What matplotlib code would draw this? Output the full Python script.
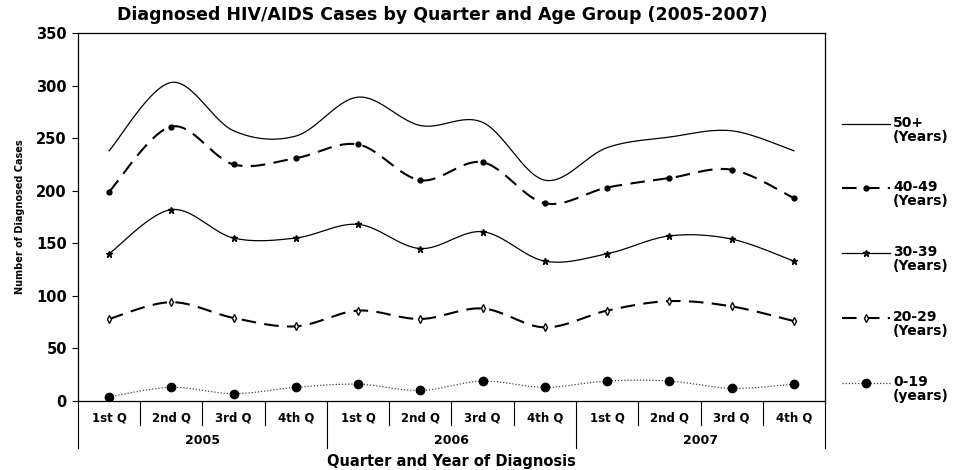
import numpy as np
import matplotlib
matplotlib.use("Agg")
import matplotlib.pyplot as plt
from matplotlib.lines import Line2D

plt.rcParams['font.family'] = ['DejaVu Sans', 'Liberation Sans']

## Chart data
#
quarters = ["1st Q", "2nd Q", "3rd Q", "4th Q"] * 3
years = ["2005", "2006", "2007"]
age_50 = [238, 303, 257, 252, 289, 262, 265, 210, 241, 251, 257, 238]
age_40 = [199, 261, 225, 231, 244, 210, 227, 188, 203, 212, 220, 193]
age_30 = [140, 182, 155, 155, 168, 145, 161, 133, 140, 157, 154, 133]
age_20 = [78, 94, 79, 71, 86, 78, 88, 70, 86, 95, 90, 76]
age_0 = [4, 13, 7, 13, 16, 10, 19, 13, 19, 19, 12, 16]
labels = ["50+\n(Years)", "40-49\n(Years)", "30-39\n(Years)", "20-29\n(Years)", "0-19\n(years)"]


def smooth(y, n=30):
    # Excel style smoothed line (Catmull-Rom through the points)
    x = np.arange(len(y), dtype=float)
    y = np.asarray(y, dtype=float)
    px = np.concatenate([[x[0]], x, [x[-1]]])
    py = np.concatenate([[y[0]], y, [y[-1]]])
    xs, ys = [], []
    t = np.linspace(0, 1, n)
    for i in range(1, len(px) - 2):
        p0 = np.array([px[i], py[i]])
        p3 = np.array([px[i + 1], py[i + 1]])
        p1 = p0 + (np.array([px[i + 1], py[i + 1]]) - np.array([px[i - 1], py[i - 1]])) / 6
        p2 = p3 - (np.array([px[i + 2], py[i + 2]]) - np.array([px[i], py[i]])) / 6
        b = ((1 - t) ** 3)[:, None] * p0 + (3 * (1 - t) ** 2 * t)[:, None] * p1 \
            + (3 * (1 - t) * t ** 2)[:, None] * p2 + (t ** 3)[:, None] * p3
        xs.extend(b[:, 0])
        ys.extend(b[:, 1])
    return np.array(xs), np.array(ys)


fig = plt.figure(figsize=(9.59, 4.70), dpi=100)
ax = fig.add_axes([0.0813, 0.1468, 0.779, 0.783])

series = [age_50, age_40, age_30, age_20, age_0]
styles = [
    dict(ls="-", lw=0.9, color="black", marker=None, ms=0, mfc="black"),
    dict(ls=(0, (7, 4)), lw=1.5, color="black", marker="o", ms=3.5, mfc="black"),
    dict(ls="-", lw=0.9, color="black", marker="*", ms=5, mfc="black"),
    dict(ls=(0, (7, 4)), lw=1.5, color="black", marker="d", ms=4, mfc="white"),
    dict(ls=(0, (1, 1.5)), lw=0.9, color="#444444", marker="o", ms=6, mfc="black"),
]
x = np.arange(len(quarters))
for vals, st in zip(series, styles):
    sx, sy = smooth(vals)
    ax.plot(sx, sy, ls=st["ls"], lw=st["lw"], color=st["color"])
    if st["marker"]:
        ax.plot(x, vals, ls="none", marker=st["marker"], ms=st["ms"],
                mfc=st["mfc"], mec="black", mew=1.0)

ax.set_xlim(-0.5, 11.5)
ax.set_ylim(0, 350)
ax.set_yticks(np.arange(0, 351, 50))
ax.tick_params(axis="y", labelsize=10.5, length=4, width=0.8, pad=4)
for lab in ax.get_yticklabels():
    lab.set_fontweight("bold")
ax.set_xticks([])
for sp in ax.spines.values():
    sp.set_linewidth(0.9)

ax.set_ylabel("Number of Diagnosed Cases", fontsize=7, fontweight="bold", labelpad=8)
ax.text(0.488, 1.049, "Diagnosed HIV/AIDS Cases by Quarter and Age Group (2005-2007)",
        transform=ax.transAxes, ha="center", va="center", fontsize=12.5, fontweight="bold")

## Two level category axis
#
tr = ax.get_xaxis_transform()
for i, q in enumerate(quarters):
    ax.text(i, -0.045, q, transform=tr, ha="center", va="center", fontsize=8.5, fontweight="bold")
for i in range(len(quarters) + 1):
    ylow = -0.128 if i % 4 == 0 else -0.065
    ax.plot([i - 0.5, i - 0.5], [0, ylow], transform=tr, color="black", lw=0.8, clip_on=False)
for j, yr in enumerate(years):
    ax.text(j * 4 + 1.5, -0.108, yr, transform=tr, ha="center", va="center", fontsize=9, fontweight="bold")
ax.text(0.5, -0.165, "Quarter and Year of Diagnosis", transform=ax.transAxes,
        ha="center", va="center", fontsize=10.5, fontweight="bold")

## Legend on the right, drawn by hand so the sample sits on the first text line
#
leg_y = [124, 188, 253, 318, 383]
for lab, st, yp in zip(labels, styles, leg_y):
    fy = 1 - yp / 470
    fig.add_artist(Line2D([842 / 959, 890 / 959], [fy, fy], ls=st["ls"], lw=st["lw"],
                          color=st["color"], transform=fig.transFigure))
    if st["marker"]:
        fig.add_artist(Line2D([866 / 959], [fy], ls="none", marker=st["marker"], ms=st["ms"],
                              mfc=st["mfc"], mec="black", transform=fig.transFigure))
    fig.text(893 / 959, fy + 0.016, lab, ha="left", va="top", fontsize=10,
             fontweight="bold", linespacing=1.0)

fig.savefig("out.png", dpi=100)
